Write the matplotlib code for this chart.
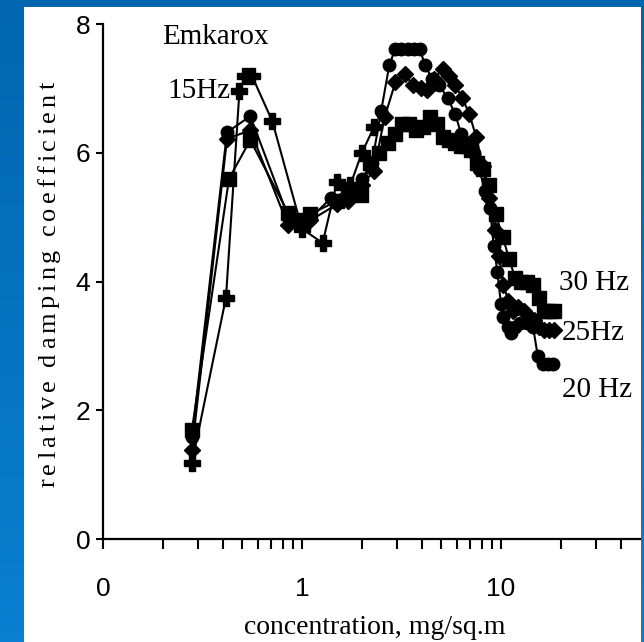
import numpy as np
import matplotlib.pyplot as plt
from matplotlib.patches import Rectangle
from matplotlib.transforms import IdentityTransform
from matplotlib.ticker import FixedLocator, FixedFormatter

# ============ Data ============
x15 = [0.28, 0.415, 0.485, 0.52, 0.56, 0.71, 1.0, 1.27, 1.5, 1.75, 2.0, 2.3]
y15 = [1.18, 3.75, 6.96, 7.2, 7.2, 6.49, 4.82, 4.6, 5.55, 5.5, 6.0, 6.4]

x20 = [0.28, 0.42, 0.55, 0.86, 1.0, 1.1, 1.4, 1.7, 2.0, 2.25, 2.5, 2.75, 2.95, 3.15,
       3.4, 3.65, 3.9, 4.15, 4.5, 4.9, 5.4, 5.9, 6.3, 6.8, 7.3, 7.8, 8.3, 8.8, 9.2,
       9.6, 10.0, 10.3, 10.8, 11.3, 11.8, 12.5, 13.5, 14.5, 15.3, 16.2, 17.2, 18.3]
y20 = [1.58, 6.32, 6.57, 4.98, 4.9, 4.98, 5.3, 5.4, 5.6, 5.85, 6.65, 7.37, 7.62, 7.62,
       7.62, 7.62, 7.62, 7.37, 7.15, 7.05, 6.85, 6.6, 6.3, 6.15, 6.0, 5.75, 5.4, 5.15, 4.55,
       4.15, 3.65, 3.45, 3.3, 3.2, 3.3, 3.35, 3.35, 3.3, 2.85, 2.72, 2.72, 2.72]

x25 = [0.28, 0.42, 0.55, 0.85, 1.0, 1.1, 1.5, 1.7, 2.0, 2.3, 2.6, 2.95, 3.3, 3.6,
       3.95, 4.25, 4.6, 5.1, 5.5, 5.9, 6.4, 6.95, 7.5, 8.1, 8.7, 9.3, 9.8, 10.3, 10.9,
       11.5, 12.2, 13.0, 13.8, 14.7, 15.6, 16.5, 17.5, 18.5]
y25 = [1.38, 6.22, 6.35, 4.88, 4.88, 4.95, 5.2, 5.25, 5.5, 5.72, 6.55, 7.1, 7.23, 7.05,
       7.0, 6.97, 7.15, 7.3, 7.2, 7.05, 6.85, 6.6, 6.25, 5.8, 5.3, 4.8, 4.4, 3.95, 3.7,
       3.55, 3.6, 3.55, 3.45, 3.4, 3.3, 3.25, 3.25, 3.25]

x30 = [0.28, 0.43, 0.55, 0.85, 1.0, 1.1, 1.5, 1.7, 1.97, 2.2, 2.45, 2.7, 2.95, 3.2,
       3.45, 3.75, 4.05, 4.4, 4.75, 5.1, 5.5, 5.9, 6.3, 6.7, 7.1, 7.6, 8.1, 8.7, 9.4,
       10.2, 11.0, 11.8, 12.6, 13.5, 14.5, 15.5, 16.5, 17.5, 18.5]
y30 = [1.7, 5.6, 6.2, 5.07, 4.95, 5.05, 5.25, 5.4, 5.35, 5.85, 6.0, 6.15, 6.3, 6.45,
       6.45, 6.35, 6.4, 6.55, 6.45, 6.25, 6.2, 6.15, 6.1, 6.1, 6.05, 5.85, 5.75, 5.5, 5.05,
       4.7, 4.35, 4.05, 4.0, 4.0, 3.95, 3.75, 3.55, 3.55, 3.55]

xmajor = [0.1, 1, 10]
xmajor_labels = ['0', '1', '10']
yticks = [0, 2, 4, 6, 8]

serif = ['Liberation Serif', 'DejaVu Serif']
sans = ['Liberation Sans', 'DejaVu Sans']

fig = plt.figure(figsize=(6.44, 6.42), dpi=100)

# blue gradient background
bg = fig.add_axes([0, 0, 1, 1], zorder=0)
grad = np.linspace(0, 1, 256).reshape(-1, 1)
top = np.array([0.0, 0.40, 0.69])
bot = np.array([0.04, 0.50, 0.82])
img = top + (bot - top) * grad[:, :, None]
bg.imshow(img, aspect='auto', extent=[0, 1, 0, 1], origin='upper')
bg.axis('off')
bg.add_patch(Rectangle((24 / 644, 0), (641 - 24) / 644, 1 - 7 / 642,
                       transform=bg.transAxes, facecolor='white', edgecolor='none'))

ax = fig.add_axes([103 / 644, 0.1604, (640 - 103) / 644, 0.802], zorder=1)
ax.patch.set_alpha(0)

kw = dict(color='black', lw=1.5, markeredgecolor='black', markerfacecolor='black')
ax.plot(x15, y15, marker='P', ms=12, **kw)
ax.plot(x20, y20, marker='o', ms=9, **kw)
ax.plot(x25, y25, marker='D', ms=8.5, **kw)
ax.plot(x30, y30, marker='s', ms=10, **kw)

ax.set_xscale('log')
ax.set_xlim(0.1, 50)
ax.set_ylim(0, 8)

ax.xaxis.set_major_locator(FixedLocator(xmajor))
ax.xaxis.set_major_formatter(FixedFormatter(xmajor_labels))
minor = [m * d for d in (0.1, 1, 10) for m in range(2, 10) if m * d < 50]
ax.xaxis.set_minor_locator(FixedLocator(minor))
ax.xaxis.set_minor_formatter(FixedFormatter([]))
ax.set_yticks(yticks)

for s in ['top', 'right']:
    ax.spines[s].set_visible(False)
for s in ['left', 'bottom']:
    ax.spines[s].set_linewidth(1.6)

ax.tick_params(axis='x', which='both', direction='out', length=7.5, width=1.5,
               pad=20, labelsize=19)
ax.tick_params(axis='y', direction='out', length=5, width=1.5, pad=4, labelsize=19)
for lab in ax.get_xticklabels() + ax.get_yticklabels():
    lab.set_family(sans)

# annotations
tk = dict(family=serif, fontsize=21, va='center', ha='left', transform=fig.transFigure)
fig.text(162 / 644, 1 - 36.5 / 642, 'Emkarox', **tk)
fig.text(167 / 644, 1 - 91 / 642, '15Hz', **tk)
fig.text(559 / 644, 1 - 283 / 642, '30 Hz', **tk)
fig.text(562 / 644, 1 - 333 / 642, '25Hz', **tk)
fig.text(562 / 644, 1 - 390 / 642, '20 Hz', **tk)


def spaced_vertical(text, x_base, y_start, y_end, size):
    """Vertical text with extra letter spacing, laid out char by char (pixels)."""
    r = fig.canvas.get_renderer()
    widths = []
    for ch in text:
        if ch == ' ':
            widths.append(size * 0.3)
            continue
        t = fig.text(0, 0, ch, family=serif, fontsize=size)
        widths.append(t.get_window_extent(r).width)
        t.remove()
    track = (y_end - y_start - sum(widths)) / (len(text) - 1)
    y = y_start
    for ch, w in zip(text, widths):
        if ch != ' ':
            fig.text(x_base, y, ch, family=serif, fontsize=size, rotation=90,
                     rotation_mode='anchor', ha='left', va='baseline',
                     transform=IdentityTransform())
        y += w + track


spaced_vertical('relative damping coefficient', 55, 642 - 487, 642 - 82, 19)
fig.text(375 / 644, 1 - 628 / 642, 'concentration, mg/sq.m', family=serif,
         fontsize=20, ha='center', va='center')

fig.savefig('out.png', dpi=100)
